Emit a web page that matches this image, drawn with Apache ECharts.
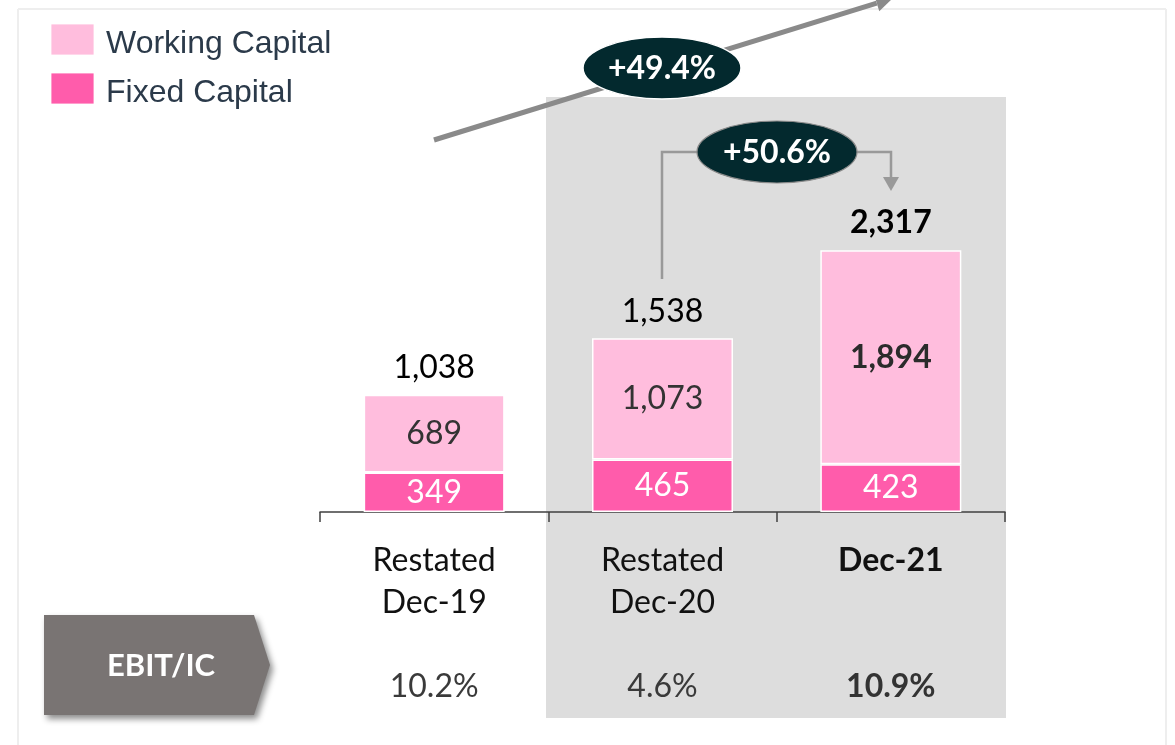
<!DOCTYPE html>
<html>
<head>
<meta charset="utf-8">
<script src="https://cdn.jsdelivr.net/npm/echarts@6/dist/echarts.min.js"></script>
<style>
  html, body { margin: 0; padding: 0; background: #ffffff; }
  #chart { width: 1175px; height: 745px; }
</style>
</head>
<body>
<div id="chart"></div>
<script>
// Invested capital by period (EUR m)
const categories = ['Dec-19', 'Dec-20', 'Dec-21'];
const categoryPrefix = ['Restated', 'Restated', ''];
const fixedCapital = [349, 465, 423];
const workingCapital = [689, 1073, 1894];
const investedCapital = [1038, 1538, 2317];
const ebitIc = ['10.2%', '4.6%', '10.9%'];
const growthLabels = ['+49.4%', '+50.6%'];
const seriesNames = ['Working Capital', 'Fixed Capital'];

const FONT = 'Lato, "Noto Sans", sans-serif';
const HIGHLIGHT = 2; // latest period is emphasised in bold
const COLOR_WORKING = '#ffbddd';
const COLOR_FIXED = '#ff5cab';

const fmt = v => v.toLocaleString('en-US');

const chart = echarts.init(document.getElementById('chart'), null, { renderer: 'canvas' });

// arrow head for the long growth arrow
const arrowStart = [434, 140];
const arrowTip = [893, -2];
const dx = arrowTip[0] - arrowStart[0], dy = arrowTip[1] - arrowStart[1];
const len = Math.sqrt(dx * dx + dy * dy);
const ux = dx / len, uy = dy / len;
const headLen = 17, headHalf = 8.5;
const base = [arrowTip[0] - ux * headLen, arrowTip[1] - uy * headLen];
const headPts = [
  arrowTip,
  [base[0] - uy * headHalf, base[1] + ux * headHalf],
  [base[0] + uy * headHalf, base[1] - ux * headHalf]
];

// legend swatches and names, stacked top-left
const legendItems = [];
[COLOR_WORKING, COLOR_FIXED].forEach((c, i) => {
  const top = 24 + i * 49;
  legendItems.push({
    type: 'rect', z: 20,
    shape: { x: 51, y: top, width: 43, height: 31 },
    style: { fill: c, stroke: 'rgba(255,255,255,0.8)', lineWidth: 1 }
  });
  legendItems.push({
    type: 'text', z: 20, x: 106, y: top + 20,
    style: {
      text: seriesNames[i], fill: '#2b3a4a',
      fontFamily: '"Liberation Sans", Arial, sans-serif', fontSize: 32,
      align: 'left', verticalAlign: 'middle'
    }
  });
});

const option = {
  animation: false,
  backgroundColor: '#ffffff',
  grid: { left: 320, right: 170, top: 173, bottom: 233, containLabel: false },
  xAxis: {
    type: 'category',
    data: categories,
    boundaryGap: true,
    axisLine: { lineStyle: { color: '#404040', width: 1.5 } },
    axisTick: { show: true, length: 10, lineStyle: { color: '#404040', width: 1.5 } },
    axisLabel: {
      margin: 28,
      interval: 0,
      formatter: (v, i) => {
        if (i === HIGHLIGHT) {
          return `{hb|${v}}\n{h| }\n{h| }\n{pb|${ebitIc[i]}}`;
        }
        return `{h|${categoryPrefix[i]}}\n{h|${v}}\n{h| }\n{p|${ebitIc[i]}}`;
      },
      rich: {
        h: { fontFamily: FONT, fontSize: 32, lineHeight: 42, color: '#111111' },
        hb: { fontFamily: FONT, fontSize: 32, lineHeight: 42, color: '#111111', fontWeight: 'bold' },
        p: { fontFamily: FONT, fontSize: 32, lineHeight: 42, color: '#3a3a3a' },
        pb: { fontFamily: FONT, fontSize: 32, lineHeight: 42, color: '#333333', fontWeight: 'bold' }
      }
    }
  },
  yAxis: {
    type: 'value',
    min: 0,
    max: 3000,
    show: false,
    splitLine: { show: false }
  },
  series: [
    {
      name: seriesNames[1],
      type: 'bar',
      stack: 'ic',
      barWidth: 141,
      itemStyle: { color: COLOR_FIXED, borderColor: '#ffffff', borderWidth: 1.5 },
      label: {
        show: true,
        position: 'inside',
        fontFamily: FONT,
        fontSize: 32,
        color: '#ffffff',
        formatter: p => fmt(p.value)
      },
      data: fixedCapital
    },
    {
      name: seriesNames[0],
      type: 'bar',
      stack: 'ic',
      barWidth: 141,
      itemStyle: { color: COLOR_WORKING, borderColor: '#ffffff', borderWidth: 1.5 },
      label: {
        show: true,
        position: 'inside',
        fontFamily: FONT,
        fontSize: 32,
        color: '#333333',
        formatter: p => fmt(p.value)
      },
      data: workingCapital.map((v, i) => i === HIGHLIGHT
        ? { value: v, label: { fontWeight: 'bold', color: '#2b2b2b' } }
        : v)
    },
    {
      // invisible markers at the stack totals, carrying the total labels
      name: 'Invested Capital',
      type: 'scatter',
      symbol: 'circle',
      symbolSize: 2,
      itemStyle: { color: 'rgba(0,0,0,0)' },
      z: 5,
      silent: true,
      label: {
        show: true,
        position: 'top',
        distance: 10,
        fontFamily: FONT,
        fontSize: 32,
        color: '#000000',
        opacity: 1,
        formatter: p => fmt(p.value)
      },
      data: investedCapital.map((v, i) => i === HIGHLIGHT
        ? { value: v, label: { fontWeight: 'bold' } }
        : v)
    }
  ],
  graphic: [
    // page frame
    { type: 'line', z: 1, shape: { x1: 18, y1: 9, x2: 1166, y2: 9 }, style: { stroke: '#eeeeee', lineWidth: 2 } },
    { type: 'line', z: 1, shape: { x1: 18, y1: 9, x2: 18, y2: 745 }, style: { stroke: '#eeeeee', lineWidth: 2 } },
    { type: 'line', z: 1, shape: { x1: 1166, y1: 9, x2: 1166, y2: 745 }, style: { stroke: '#eeeeee', lineWidth: 2 } },
    // shaded panel behind the restated and current periods
    { type: 'rect', z: -10, shape: { x: 546, y: 97, width: 460, height: 621 }, style: { fill: '#dddddd' } },
    ...legendItems,
    // EBIT/IC tag
    {
      type: 'polygon', z: 2,
      shape: { points: [[44, 615], [254, 615], [270, 665], [254, 715], [44, 715]] },
      style: { fill: '#797473', shadowBlur: 6, shadowOffsetX: 3, shadowOffsetY: 4, shadowColor: 'rgba(0,0,0,0.45)' }
    },
    {
      type: 'text', z: 3, x: 161, y: 666,
      style: { text: 'EBIT/IC', fill: '#ffffff', fontFamily: FONT, fontSize: 31, fontWeight: 'bold', align: 'center', verticalAlign: 'middle' }
    },
    // long growth arrow
    {
      type: 'line', z: 10,
      shape: { x1: arrowStart[0], y1: arrowStart[1], x2: base[0], y2: base[1] },
      style: { stroke: '#8a8a8a', lineWidth: 5 }
    },
    { type: 'polygon', z: 10, shape: { points: headPts }, style: { fill: '#8a8a8a' } },
    {
      type: 'ellipse', z: 11,
      shape: { cx: 662, cy: 68, rx: 79, ry: 31 },
      style: { fill: '#03292e', stroke: '#ffffff', lineWidth: 1.5 }
    },
    {
      type: 'text', z: 12, x: 662, y: 69,
      style: { text: growthLabels[0], fill: '#ffffff', fontFamily: FONT, fontSize: 32, fontWeight: 'bold', align: 'center', verticalAlign: 'middle' }
    },
    // elbow connector between Dec-20 and Dec-21
    {
      type: 'polyline', z: 10,
      shape: { points: [[662, 279], [662, 152], [700, 152]] },
      style: { stroke: '#999999', lineWidth: 2.5, fill: null }
    },
    {
      type: 'polyline', z: 10,
      shape: { points: [[855, 152], [891, 152], [891, 178]] },
      style: { stroke: '#999999', lineWidth: 2.5, fill: null }
    },
    { type: 'polygon', z: 10, shape: { points: [[883, 177], [899, 177], [891, 191]] }, style: { fill: '#999999' } },
    {
      type: 'ellipse', z: 11,
      shape: { cx: 777, cy: 152, rx: 80, ry: 31 },
      style: { fill: '#03292e', stroke: '#8a8a8a', lineWidth: 1.2 }
    },
    {
      type: 'text', z: 12, x: 777, y: 153,
      style: { text: growthLabels[1], fill: '#ffffff', fontFamily: FONT, fontSize: 32, fontWeight: 'bold', align: 'center', verticalAlign: 'middle' }
    }
  ]
};

chart.setOption(option);
</script>
</body>
</html>
